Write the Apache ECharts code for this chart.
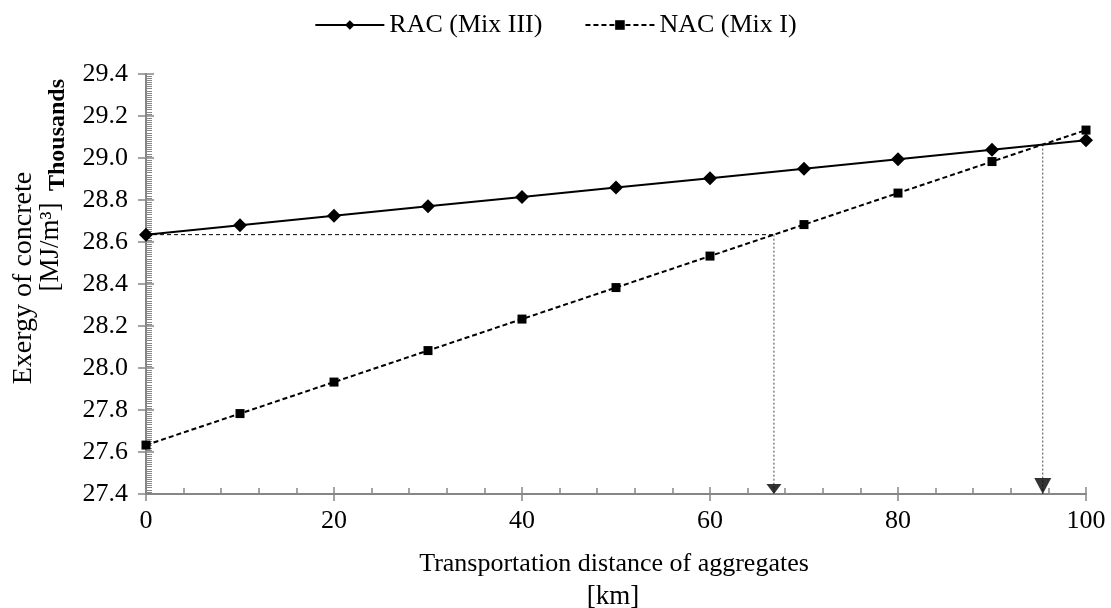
<!DOCTYPE html>
<html>
<head>
<meta charset="utf-8">
<script src="https://cdn.jsdelivr.net/npm/echarts@6/dist/echarts.min.js"></script>
<style>
  html, body { margin: 0; padding: 0; background: #fff; }
  #myChart { width: 1111px; height: 608px; }
</style>
</head>
<body>
<div id="myChart"></div>
<script>
// data
const distances = [0, 10, 20, 30, 40, 50, 60, 70, 80, 90, 100];
const racValues = [28.635, 28.680, 28.725, 28.770, 28.814, 28.859, 28.904, 28.949, 28.994, 29.039, 29.084];
const nacValues = [27.633, 27.783, 27.933, 28.083, 28.233, 28.383, 28.533, 28.683, 28.833, 28.983, 29.133];
// guide lines: where NAC reaches the RAC start value, and where the two lines cross
const crossKm = [66.8, 95.4];
const crossLevel = [28.635, 29.064];
const yMin = 27.4, yMax = 29.4, yStep = 0.2;
const xMin = 0, xMax = 100, xStep = 20;

const font = "Liberation Serif";
const axisGray = "#868686";

let myChart = echarts.init(document.getElementById("myChart"));

const zip = (xs, ys) => xs.map((x, i) => [x, ys[i]]);

myChart.setOption({
  animation: false,
  textStyle: { fontFamily: font },
  legend: {
    top: 7,
    left: "center",
    itemWidth: 69,
    itemHeight: 12,
    itemGap: 42,
    data: ["RAC (Mix III)", "NAC (Mix I)"],
    textStyle: { fontFamily: font, fontSize: 26, color: "#000" },
  },
  grid: { left: 146, right: 25, top: 74, bottom: 114 },
  xAxis: [
    {
      type: "value",
      min: xMin,
      max: xMax,
      interval: xStep,
      axisLine: { lineStyle: { color: axisGray, width: 2 } },
      axisTick: { length: 7, lineStyle: { color: axisGray, width: 1.5 } },
      axisLabel: { margin: 14, fontFamily: font, fontSize: 26, color: "#000" },
      splitLine: { show: false },
    },
    {
      type: "value",
      position: "bottom",
      min: xMin,
      max: xMax,
      interval: xStep,
      axisLine: { show: false },
      axisTick: { inside: true, length: 7, lineStyle: { color: axisGray, width: 1.5 } },
      minorTick: { show: true, splitNumber: 5, length: 6, lineStyle: { color: axisGray, width: 1.5 } },
      axisLabel: { show: false },
      splitLine: { show: false },
    },
  ],
  yAxis: [
    {
      type: "value",
      min: yMin,
      max: yMax,
      interval: yStep,
      axisLine: { show: true, lineStyle: { color: axisGray, width: 2 } },
      axisTick: { show: true, length: 8, lineStyle: { color: axisGray, width: 1.5 } },
      axisLabel: {
        margin: 18,
        fontFamily: font,
        fontSize: 26,
        color: "#000",
        formatter: (v) => v.toFixed(1),
      },
      splitLine: { show: false },
    },
    {
      type: "value",
      position: "left",
      min: yMin,
      max: yMax,
      interval: yStep,
      axisLine: { show: false },
      axisTick: { show: true, inside: true, length: 8, lineStyle: { color: axisGray, width: 1.5 } },
      minorTick: { show: true, splitNumber: 20, length: 6, lineStyle: { color: axisGray, width: 1 } },
      axisLabel: { show: false },
      splitLine: { show: false },
    },
  ],
  graphic: [
    {
      type: "text",
      x: 24,
      y: 278,
      rotation: Math.PI / 2,
      style: {
        text: "Exergy of concrete",
        fontFamily: font,
        fontSize: 28,
        fill: "#000",
        align: "center",
        verticalAlign: "middle",
      },
    },
    {
      type: "text",
      x: 51,
      y: 247,
      rotation: Math.PI / 2,
      style: {
        text: "[MJ/m³]",
        fontFamily: font,
        fontSize: 27,
        fill: "#000",
        align: "center",
        verticalAlign: "middle",
      },
    },
    {
      type: "text",
      x: 58,
      y: 135,
      rotation: Math.PI / 2,
      style: {
        text: "Thousands",
        fontFamily: font,
        fontSize: 24,
        fontWeight: "bold",
        fill: "#000",
        align: "center",
        verticalAlign: "middle",
      },
    },
    {
      type: "text",
      x: 614,
      y: 564,
      style: {
        text: "Transportation distance of aggregates",
        fontFamily: font,
        fontSize: 26,
        fill: "#000",
        align: "center",
        verticalAlign: "middle",
      },
    },
    {
      type: "text",
      x: 613,
      y: 597,
      style: {
        text: "[km]",
        fontFamily: font,
        fontSize: 27,
        fill: "#000",
        align: "center",
        verticalAlign: "middle",
      },
    },
  ],
  series: [
    {
      // horizontal guide at the RAC start value
      type: "line",
      silent: true,
      symbol: "none",
      data: [[xMin, crossLevel[0]], [crossKm[0], crossLevel[0]]],
      lineStyle: { color: "#000", width: 1, type: [4, 3] },
      z: 1,
    },
    {
      type: "line",
      silent: true,
      symbol: "none",
      data: [[crossKm[0], crossLevel[0]], [crossKm[0], yMin]],
      lineStyle: { color: "#444", width: 1, type: [2, 2] },
      z: 1,
    },
    {
      type: "line",
      silent: true,
      symbol: "none",
      data: [[crossKm[1], crossLevel[1]], [crossKm[1], yMin]],
      lineStyle: { color: "#444", width: 1, type: [2, 2] },
      z: 1,
    },
    {
      // arrow heads on the x axis
      type: "scatter",
      silent: true,
      data: [
        { value: [crossKm[0], yMin], symbolSize: [15, 10], symbolOffset: [0, -5] },
        { value: [crossKm[1], yMin], symbolSize: [17, 16], symbolOffset: [0, -8] },
      ],
      symbol: "triangle",
      symbolRotate: 180,
      itemStyle: { color: "#000" },
      z: 5,
    },
    {
      name: "RAC (Mix III)",
      type: "line",
      data: zip(distances, racValues),
      symbol: "diamond",
      symbolSize: 14,
      lineStyle: { color: "#000", width: 2 },
      itemStyle: { color: "#000" },
      z: 3,
    },
    {
      name: "NAC (Mix I)",
      type: "line",
      data: zip(distances, nacValues),
      symbol: "rect",
      symbolSize: 9,
      lineStyle: { color: "#000", width: 2, type: [5, 3] },
      itemStyle: { color: "#000" },
      z: 3,
    },
  ],
});
</script>
</body>
</html>
